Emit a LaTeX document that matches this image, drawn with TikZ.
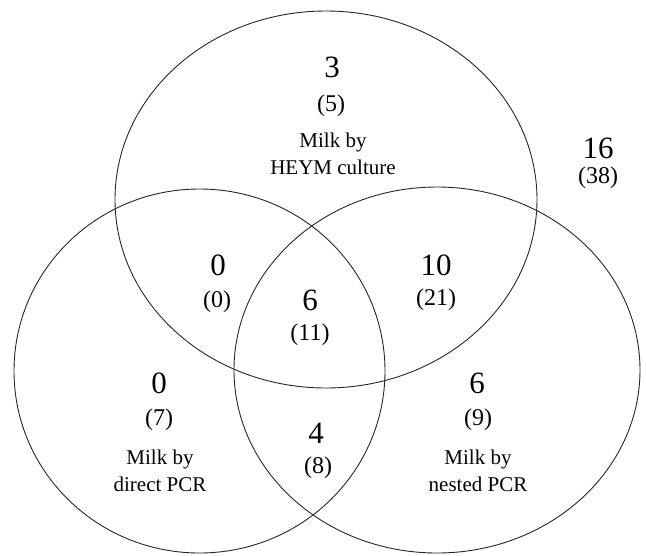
\documentclass[tikz,border=0pt]{standalone}
\usepackage{fontspec}
\setmainfont{Liberation Serif}
\usetikzlibrary{shapes.geometric}
\tikzset{
  setring/.style={ellipse, draw=black!85, line width=0.9pt, inner sep=0pt},
  bignum/.style={inner sep=0pt, font=\fontsize{31}{31}\selectfont},
  paren/.style={inner sep=0pt, font=\fontsize{24}{24}\selectfont},
  setlabel/.style={inner sep=0pt, align=center, font=\fontsize{21}{27}\selectfont},
}
\begin{document}
\begin{tikzpicture}[x=1pt, y=-1pt]
\useasboundingbox (0,0) rectangle (646,555);
\node[setring, minimum width=422pt, minimum height=377pt] (heym) at (326,199.5) {};
\node[setring, minimum width=371pt, minimum height=364pt] (direct) at (199.5,371) {};
\node[setring, minimum width=406pt, minimum height=366pt] (nested) at (437,370) {};

\node[bignum] (n3) at (332,67) {3};
\node[paren] (p5) at (331,106) {(5)};
\node[setlabel] (lh) at (333,154) {Milk by\\HEYM culture};

\node[bignum] (n16) at (598,148) {16};
\node[paren] (p38) at (598,178) {(38)};

\node[bignum] (n0a) at (218,265) {0};
\node[paren] (p0) at (217,302) {(0)};

\node[bignum] (n10) at (436,265) {10};
\node[paren] (p21) at (436,300) {(21)};

\node[bignum] (n6a) at (310,300) {6};
\node[paren] (p11) at (310,335) {(11)};

\node[bignum] (n0b) at (159,383) {0};
\node[paren] (p7) at (159,420) {(7)};
\node[setlabel] (ld) at (160,471) {Milk by\\direct PCR};

\node[bignum] (n4) at (316,433) {4};
\node[paren] (p8) at (318,468) {(8)};

\node[bignum] (n6b) at (477,383) {6};
\node[paren] (p9) at (478,420) {(9)};
\node[setlabel] (ln) at (478,471) {Milk by\\nested PCR};
\end{tikzpicture}
\end{document}
